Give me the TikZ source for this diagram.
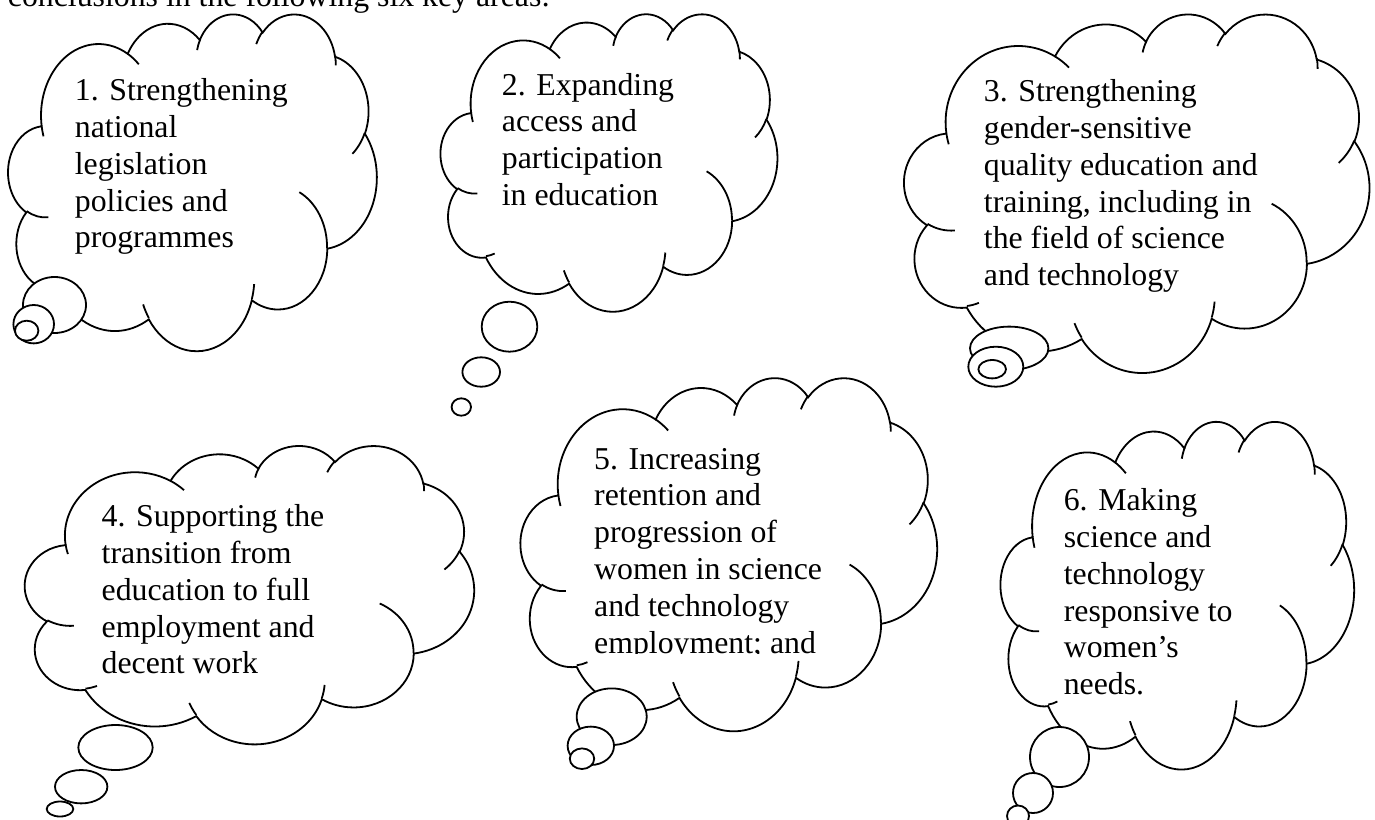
\documentclass[tikz,border=0pt]{standalone}
\usepackage{tikz}
\usepackage{fontspec}
\setmainfont{Liberation Serif}
% arc helper: converts DrawingML visual angles into TikZ parametric angles
\newcommand\mkarc[5]{%
  \pgfmathsetmacro\cloudtmpS{atan2((#2)*sin(#4),(#3)*cos(#4))}%
  \pgfmathsetmacro\cloudtmpE{atan2((#2)*sin((#4)+(#5)),(#3)*cos((#4)+(#5)))}%
  \pgfmathsetmacro\cloudtmpD{mod(\cloudtmpE-\cloudtmpS+720,360)}%
  \expandafter\xdef\csname #1\endcsname{arc[start angle=\cloudtmpS, delta angle=\cloudtmpD, x radius=#2, y radius=#3]}%
}
\mkarc{cloudarcA}{6.753}{9.190}{-190.4875}{123.7805}
\mkarc{cloudarcB}{5.333}{7.267}{-144.1024}{89.9452}
\mkarc{cloudarcC}{4.365}{5.945}{-145.8079}{99.7230}
\mkarc{cloudarcD}{4.857}{6.595}{-130.9861}{117.2417}
\mkarc{cloudarcE}{5.333}{7.273}{-78.7089}{109.0269}
\mkarc{cloudarcF}{6.775}{9.220}{-46.2673}{130.2690}
\mkarc{cloudarcG}{5.785}{7.867}{0.6250}{114.0333}
\mkarc{cloudarcH}{6.752}{9.215}{22.4516}{115.1726}
\mkarc{cloudarcI}{7.720}{10.543}{66.2426}{75.7110}
\mkarc{cloudarcJ}{4.360}{5.918}{-274.9421}{146.7356}
\mkarc{cloudarcK}{4.345}{5.945}{-246.8285}{152.5189}
\mkarc{cloudstubA}{4.345}{5.945}{86.7420}{26.4295}
\mkarc{cloudstubB}{4.360}{5.918}{73.6105}{11.4475}
\mkarc{cloudstubC}{6.752}{9.215}{137.6242}{14.0811}
\mkarc{cloudstubD}{6.752}{9.215}{6.4533}{15.9984}
\mkarc{cloudstubE}{5.785}{7.867}{-70.2924}{70.9174}
\mkarc{cloudstubF}{5.333}{7.273}{30.3180}{27.7515}
\mkarc{cloudstubG}{4.857}{6.595}{-13.7443}{14.8589}
\mkarc{cloudstubH}{4.857}{6.595}{-149.1815}{18.1954}
\mkarc{cloudstubI}{4.365}{5.945}{-163.4943}{17.6864}
\mkarc{cloudstubJ}{6.753}{9.190}{-66.7070}{12.3194}
\mkarc{cloudstubK}{6.753}{9.190}{157.6544}{11.8582}
% cloud body drawn in a 43.2 x 43.2 box mapped to (left,top)-(right,bottom) in px
\newcommand\drawcloud[4]{%
  \pgfmathsetmacro\cloudxu{(#3-#1)/43.2*0.5}%
  \pgfmathsetmacro\cloudyu{(#4-#2)/43.2*0.5}%
  \begin{scope}[shift={(#1*0.5pt,-#2*0.5pt)}, x=\cloudxu pt, y=-\cloudyu pt]
    \draw[cloudline, fill=white] (3.9,14.37) \cloudarcA \cloudarcB \cloudarcC \cloudarcD
      \cloudarcE \cloudarcF \cloudarcG \cloudarcH \cloudarcI \cloudarcJ \cloudarcK -- cycle;
    \draw[cloudline] (4.693,26.177) \cloudstubA (6.928,34.899) \cloudstubB
      (16.478,39.090) \cloudstubC (28.827,34.751) \cloudstubD
      (34.129,22.954) \cloudstubE (41.798,15.354) \cloudstubF
      (38.324,5.426) \cloudstubG (29.078,3.952) \cloudstubH
      (22.141,4.720) \cloudstubI (14.000,5.192) \cloudstubJ
      (4.127,15.789) \cloudstubK;
  \end{scope}%
}
\tikzset{
  cloudline/.style={draw=black, line width=0.9pt},
  bubble/.style={cloudline, fill=white},
  cloudtext/.style={anchor=base west, inner sep=0pt, font=\fontsize{15.9pt}{18.4pt}\selectfont},
}
\begin{document}
\begin{tikzpicture}[x=0.5pt, y=-0.5pt]
\useasboundingbox (0,0) rectangle (1375,819);
\clip (0,0) rectangle (1375,819);
\fill[white] (0,0) rectangle (1375,819);

\node[cloudtext] (intro) at (7.5,6) {conclusions in the following six key areas:};

% cloud 1
\drawcloud{8.3}{13.3}{376.7}{350}
\draw[bubble] (54.5,305) ellipse [x radius=31.5, y radius=28];
\draw[bubble] (33.7,324.2) ellipse [x radius=20.3, y radius=19.2];
\draw[bubble] (26.7,330.7) ellipse [x radius=11.7, y radius=10];
\node[cloudtext] (t1) at (74.5,100.7) {\begin{tabular}[t]{@{}l@{}}1. Strengthening\\national\\legislation\\policies and\\programmes\end{tabular}};

% cloud 2
\drawcloud{440.7}{13.3}{777.3}{310.7}
\draw[bubble] (509.5,326.7) ellipse [x radius=27.8, y radius=25];
\draw[bubble] (481.2,372) ellipse [x radius=18.8, y radius=14.7];
\draw[bubble] (461.3,407) ellipse [x radius=9.7, y radius=8.7];
\node[cloudtext] (t2) at (501.5,95) {\begin{tabular}[t]{@{}l@{}}2. Expanding\\access and\\participation\\in education\end{tabular}};

% cloud 3
\drawcloud{904.3}{13.3}{1369.3}{371.7}
\draw[bubble] (1009.2,348.3) ellipse [x radius=39.2, y radius=21.7];
\draw[bubble] (995.8,366.7) ellipse [x radius=27.5, y radius=20];
\draw[bubble] (992.2,369.2) ellipse [x radius=13.8, y radius=9.2];
\node[cloudtext] (t3) at (983.5,101.7) {\begin{tabular}[t]{@{}l@{}}3. Strengthening\\gender-sensitive\\quality education and\\training, including in\\the field of science\\and technology\end{tabular}};

% cloud 4
\drawcloud{25}{445}{474}{743.3}
\draw[bubble] (115.5,747.5) ellipse [x radius=37.2, y radius=22.5];
\draw[bubble] (81.2,786.7) ellipse [x radius=26.2, y radius=16.7];
\draw[bubble] (60,809) ellipse [x radius=13.3, y radius=7.5];
\node[cloudtext] (t4) at (101.3,526.7) {\begin{tabular}[t]{@{}l@{}}4. Supporting the\\transition from\\education to full\\employment and\\decent work\end{tabular}};

% cloud 5
\drawcloud{520.7}{377}{937}{730}
\draw[bubble] (611.7,716.7) ellipse [x radius=35, y radius=28.3];
\draw[bubble] (590.8,745.8) ellipse [x radius=23.2, y radius=19.2];
\draw[bubble] (582,758.7) ellipse [x radius=12.2, y radius=10.3];
\begin{scope}
  \clip (560,420) rectangle (940,653.3);
  \node[cloudtext] (t5) at (593.8,469) {\begin{tabular}[t]{@{}l@{}}5. Increasing\\retention and\\progression of\\women in science\\and technology\\employment; and\end{tabular}};
\end{scope}

% cloud 6
\drawcloud{1000.7}{420.7}{1354}{768.3}
\draw[bubble] (1059.5,757) ellipse [x radius=29.5, y radius=30];
\draw[bubble] (1033,793) ellipse [x radius=20, y radius=20];
\draw[bubble] (1018,816) ellipse [x radius=11, y radius=10.5];
\node[cloudtext] (t6) at (1063.4,510.7) {\begin{tabular}[t]{@{}l@{}}6. Making\\science and\\technology\\responsive to\\women’s\\needs.\end{tabular}};
\end{tikzpicture}
\end{document}
